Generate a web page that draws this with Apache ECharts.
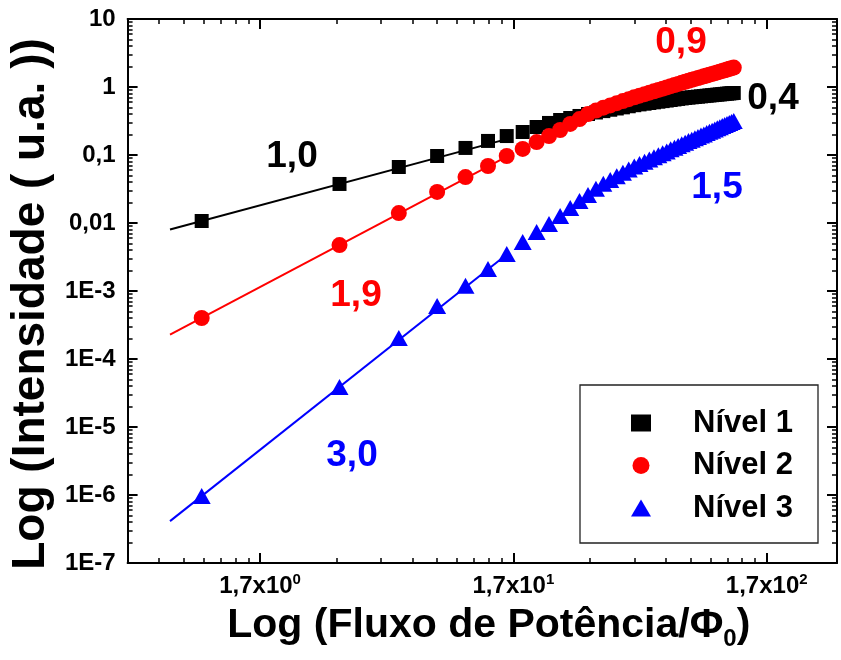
<!DOCTYPE html>
<html><head><meta charset="utf-8">
<script src="https://cdn.jsdelivr.net/npm/echarts@6/dist/echarts.min.js"></script>
<style>html,body{margin:0;padding:0;background:#fff}#c{width:841px;height:660px}</style>
</head><body><div id="c"></div>
<script>
// ---------- data ----------
const xValues = [1, 3.5, 6, 8.5, 11, 13.5, 16, 18.5, 21, 23.5, 26, 28.5, 31, 33.5, 36, 38.5, 41, 43.5, 46, 48.5,
  51, 53.5, 56, 58.5, 61, 63.5, 66, 68.5, 71, 73.5, 76, 78.5, 81, 83.5, 86, 88.5, 91, 93.5, 96, 98.5,
  101, 103.5, 106, 108.5, 111, 113.5, 116, 118.5, 121, 123.5, 126];
const nivel1 = [0.0107, 0.0375, 0.0666, 0.0967, 0.127, 0.161, 0.190, 0.218, 0.258, 0.296,
  0.327, 0.350, 0.375, 0.401, 0.422, 0.442, 0.463, 0.483, 0.502, 0.521,
  0.540, 0.555, 0.568, 0.582, 0.595, 0.608, 0.620, 0.632, 0.644, 0.656,
  0.668, 0.679, 0.690, 0.698, 0.706, 0.714, 0.721, 0.729, 0.736, 0.744,
  0.751, 0.758, 0.765, 0.772, 0.778, 0.785, 0.792, 0.798, 0.804, 0.811, 0.817];
const nivel2 = [4.01e-4, 4.74e-3, 0.0140, 0.0286, 0.0474, 0.0689, 0.0966, 0.123, 0.155, 0.190,
  0.233, 0.286, 0.338, 0.401, 0.450, 0.496, 0.536, 0.578, 0.620, 0.663,
  0.706, 0.746, 0.785, 0.825, 0.865, 0.905, 0.946, 0.986, 1.027, 1.068,
  1.109, 1.151, 1.192, 1.232, 1.273, 1.313, 1.353, 1.394, 1.435, 1.476,
  1.517, 1.557, 1.599, 1.640, 1.682, 1.723, 1.765, 1.806, 1.848, 1.890, 1.932];
const nivel3 = [9.66e-7, 3.87e-5, 2.04e-4, 6.01e-4, 1.19e-3, 2.11e-3, 3.50e-3, 5.26e-3, 7.38e-3, 9.66e-3,
  0.0127, 0.0166, 0.0211, 0.0258, 0.0318, 0.0377, 0.0429, 0.0486, 0.0546, 0.0610,
  0.0678, 0.0738, 0.0799, 0.0862, 0.0927, 0.0994, 0.106, 0.113, 0.121, 0.128,
  0.136, 0.144, 0.152, 0.160, 0.168, 0.176, 0.184, 0.193, 0.201, 0.210,
  0.219, 0.228, 0.238, 0.247, 0.256, 0.266, 0.276, 0.286, 0.296, 0.306, 0.317];
// fitted straight lines (log-log) at low flux
const fitX = [0.75, 16];
const fit1 = [0.0080, 0.171];
const fit2 = [2.28e-4, 0.0944];
const fit3 = [4.13e-7, 3.44e-3];
const seriesNames = ['Nível 1', 'Nível 2', 'Nível 3'];
const slopeTexts = ['1,0', '1,9', '3,0', '0,9', '0,4', '1,5'];
// axes
const xMin = 0.51, xMax = 322;
const yMin = 1e-7, yMax = 10;
const xMajorTicks = [1.7, 17, 170];
const xTickMantissa = ['1,7x10', '1,7x10', '1,7x10'];
const xTickExponent = ['0', '1', '2'];
const xMinorBases = [0.17, 1.7, 17];
const yMajorExponents = [-7, -6, -5, -4, -3, -2, -1, 0, 1];
const yTickLabels = ['1E-7', '1E-6', '1E-5', '1E-4', '1E-3', '0,01', '0,1', '1', '10'];
const minorMultipliers = [2, 3, 4, 5, 6, 7, 8, 9];
const xTitle = ['Log (Fluxo de Potência/Φ', '0', ')'];
const yTitle = 'Log (Intensidade ( u.a. ))';

// ---------- build ----------
const FONT = '"Liberation Sans", Arial, Helvetica, sans-serif';
const L = Math.log10;
const xMajorLog = xMajorTicks.map(L);
const xMinorLog = [];
xMinorBases.forEach(b => minorMultipliers.forEach(k => { const v = b * k; if (v > xMin * 1.01 && v < xMax) xMinorLog.push(L(v)); }));
const yMajorLog = yMajorExponents.slice();
const yMinorLog = [];
yMajorExponents.slice(0, -1).forEach(n => minorMultipliers.forEach(k => yMinorLog.push(n + L(k))));

function tickAxis(pos, min, max, ticks, len, w, showLine, extra) {
  return Object.assign({
    type: 'value', position: pos, min: min, max: max,
    axisLine: { show: showLine, onZero: false, lineStyle: { color: '#000', width: 2 } },
    axisTick: { show: true, inside: true, length: len, customValues: ticks, lineStyle: { color: '#000', width: w } },
    axisLabel: { show: false },
    splitLine: { show: false }
  }, extra || {});
}

const xLmin = L(xMin), xLmax = L(xMax), yLmin = L(yMin), yLmax = L(yMax);

const xAxes = [
  { type: 'log', min: xMin, max: xMax, show: false, axisLine: { onZero: false }, splitLine: { show: false } },
  tickAxis('bottom', xLmin, xLmax, xMajorLog, 10, 2, true, {
    axisLabel: {
      show: true, customValues: xMajorLog, margin: 9,
      formatter: function (v) {
        let i = 0, d = 1e9;
        xMajorLog.forEach((t, j) => { if (Math.abs(t - v) < d) { d = Math.abs(t - v); i = j; } });
        return '{a|' + xTickMantissa[i] + '}{b|' + xTickExponent[i] + '}';
      },
      rich: {
        a: { fontSize: 24, fontWeight: 'bold', fontFamily: FONT, color: '#000', lineHeight: 28 },
        b: { fontSize: 15, fontWeight: 'bold', fontFamily: FONT, color: '#000', lineHeight: 15, verticalAlign: 'top' }
      }
    },
    name: '{t|' + xTitle[0] + '}{s|' + xTitle[1] + '}{t|' + xTitle[2] + '}',
    nameLocation: 'middle', nameGap: 38,
    nameTextStyle: {
      padding: [0, 0, 0, 13],
      rich: {
        t: { fontSize: 41, fontWeight: 'bold', fontFamily: FONT, color: '#000', lineHeight: 50 },
        s: { fontSize: 24, fontWeight: 'bold', fontFamily: FONT, color: '#000', lineHeight: 24, verticalAlign: 'bottom' }
      }
    }
  }),
  tickAxis('bottom', xLmin, xLmax, xMinorLog, 5, 1.5, false),
  tickAxis('top', xLmin, xLmax, xMajorLog, 10, 2, true),
  tickAxis('top', xLmin, xLmax, xMinorLog, 5, 1.5, false)
];

const yAxes = [
  { type: 'log', min: yMin, max: yMax, show: false, axisLine: { onZero: false }, splitLine: { show: false } },
  tickAxis('left', yLmin, yLmax, yMajorLog, 10, 2, true, {
    axisLabel: {
      show: true, customValues: yMajorLog, margin: 12,
      fontSize: 24, fontWeight: 'bold', fontFamily: FONT, color: '#000',
      formatter: function (v) { return yTickLabels[Math.round(v) - yMajorExponents[0]]; }
    },
    name: yTitle, nameLocation: 'middle', nameGap: 66, nameRotate: 90,
    nameTextStyle: { fontSize: 46, fontWeight: 'bold', fontFamily: FONT, color: '#000', padding: [0, 26, 0, 0] }
  }),
  tickAxis('left', yLmin, yLmax, yMinorLog, 5, 1.5, false),
  tickAxis('right', yLmin, yLmax, yMajorLog, 10, 2, true),
  tickAxis('right', yLmin, yLmax, yMinorLog, 5, 1.5, false)
];

function pairs(xs, ys) { return xs.map((x, i) => [x, ys[i]]); }
const colors = ['#000000', '#ff0000', '#0000ff'];
const fits = [fit1, fit2, fit3];
const symbols = ['rect', 'circle', 'triangle'];
const symbolSizes = [14, 16, [18, 16]];
const levels = [nivel1, nivel2, nivel3];

const series = [];
fits.forEach((f, i) => series.push({
  type: 'line', xAxisIndex: 0, yAxisIndex: 0, data: pairs(fitX, f), symbol: 'none', silent: true,
  lineStyle: { color: colors[i], width: 2 }, z: 2
}));
levels.forEach((lv, i) => series.push({
  type: 'scatter', name: seriesNames[i], xAxisIndex: 0, yAxisIndex: 0, data: pairs(xValues, lv),
  symbol: symbols[i], symbolSize: symbolSizes[i], itemStyle: { color: colors[i], opacity: 1 }, z: 3
}));

const slopePos = [[292, 157], [356, 296], [352, 456], [681, 43], [773, 99], [717, 188]];
const slopeColor = ['#000000', '#ff0000', '#0000ff', '#ff0000', '#000000', '#0000ff'];
const graphics = slopeTexts.map((t, i) => ({
  type: 'text', x: slopePos[i][0], y: slopePos[i][1], z: 10,
  style: { text: t, fill: slopeColor[i], font: 'bold 37px ' + FONT,
    align: 'center', verticalAlign: 'middle', textAlign: 'center', textVerticalAlign: 'middle' }
}));
graphics.push({ type: 'rect', shape: { x: 580, y: 385, width: 238, height: 158 }, z: 0,
  style: { fill: '#fff', stroke: '#222', lineWidth: 1.3 } });

const chart = echarts.init(document.getElementById('c'), null, { renderer: 'canvas' });
chart.setOption({
  animation: false,
  backgroundColor: '#fff',
  grid: { left: 120, top: 19, width: 717, height: 544, containLabel: false },
  xAxis: xAxes,
  yAxis: yAxes,
  legend: {
    data: seriesNames, orient: 'vertical', left: 631, top: 405, padding: 0,
    itemWidth: 20, itemHeight: 17, itemGap: 6.5, selectedMode: false,
    formatter: '{gap|}{name}',
    textStyle: { fontSize: 31, fontWeight: 'bold', fontFamily: FONT, color: '#000', lineHeight: 36,
      rich: { gap: { width: 37 } } }
  },
  graphic: graphics,
  series: series
});
</script></body></html>
